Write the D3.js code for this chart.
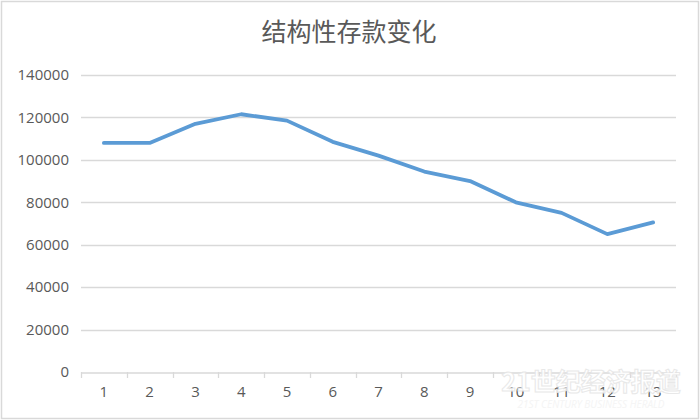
<!DOCTYPE html>
<html>
<head>
<meta charset="utf-8">
<script src="https://cdn.jsdelivr.net/npm/d3@7"></script>
<style>
  body { margin: 0; background: #fff; }
  svg { display: block; }
</style>
</head>
<body>
<div id="chart"></div>
<script>
// data
var categories = ["1", "2", "3", "4", "5", "6", "7", "8", "9", "10", "11", "12", "13"];
var values = [108000, 108000, 117000, 121500, 118500, 108500, 102000, 94500, 90000, 80000, 75000, 65000, 70500];
var yTicks = [0, 20000, 40000, 60000, 80000, 100000, 120000, 140000];
var title = "结构性存款变化";

var W = 700, H = 420;
var margin = {top: 75, right: 24, bottom: 48, left: 81},
    width = W - margin.left - margin.right,
    height = H - margin.top - margin.bottom;

var svg = d3.select("#chart")
  .append("svg")
    .attr("width", W)
    .attr("height", H);

// outer frame
svg.append("rect")
  .attr("x", 1.5).attr("y", 1.5)
  .attr("width", W - 3).attr("height", H - 3)
  .attr("fill", "#fff")
  .attr("stroke", "#d9d9d9")
  .attr("stroke-width", 1.5);

// title
svg.append("text")
  .attr("x", 349)
  .attr("y", 41)
  .attr("text-anchor", "middle")
  .style("font-family", "'Noto Sans CJK SC', sans-serif")
  .style("font-size", "25px")
  .style("fill", "#595959")
  .text(title);

var g = svg.append("g")
  .attr("transform", "translate(" + margin.left + "," + margin.top + ")");

var x = d3.scaleBand()
  .domain(categories)
  .range([0, width]);

var y = d3.scaleLinear()
  .domain([0, 140000])
  .range([height, 0]);

// gridlines
g.append("g")
  .selectAll("line")
  .data(yTicks.filter(function(d) { return d > 0; }))
  .enter()
  .append("line")
    .attr("x1", 0)
    .attr("x2", width)
    .attr("y1", function(d) { return Math.round(y(d)) + 0.5; })
    .attr("y2", function(d) { return Math.round(y(d)) + 0.5; })
    .attr("stroke", "#d9d9d9")
    .attr("stroke-width", 1.3);

// Y axis labels
var yAxis = g.append("g")
  .call(d3.axisLeft(y).tickValues(yTicks).tickSize(0).tickPadding(12).tickFormat(d3.format("d")));
yAxis.select(".domain").remove();
yAxis.selectAll("text")
  .attr("fill", "#595959")
  .style("font-family", "'Open Sans', sans-serif")
  .style("font-size", "15px");

// X axis
var xAxis = g.append("g")
  .attr("transform", "translate(0," + (Math.round(height) + 0.5) + ")")
  .call(d3.axisBottom(x).tickSize(0).tickPadding(14));
xAxis.select(".domain")
  .attr("stroke", "#d9d9d9")
  .attr("stroke-width", 1.3);
xAxis.selectAll("text")
  .attr("fill", "#595959")
  .style("font-family", "'Open Sans', sans-serif")
  .style("font-size", "15px");

// category boundary ticks
var bounds = categories.map(function(c) { return x(c); }).concat([width]);
g.append("g")
  .selectAll("line")
  .data(bounds)
  .enter()
  .append("line")
    .attr("x1", function(d) { return Math.round(d) + 0.5; })
    .attr("x2", function(d) { return Math.round(d) + 0.5; })
    .attr("y1", height)
    .attr("y2", height + 6)
    .attr("stroke", "#d9d9d9")
    .attr("stroke-width", 1.3);

// line
var line = d3.line()
  .x(function(d, i) { return x(categories[i]) + x.bandwidth() / 2; })
  .y(function(d) { return y(d); });

g.append("path")
  .datum(values)
  .attr("d", line)
  .attr("fill", "none")
  .attr("stroke", "#5b9bd5")
  .attr("stroke-width", 3.8)
  .attr("stroke-linejoin", "round")
  .attr("stroke-linecap", "round");

// watermark
var wm = svg.append("g").attr("opacity", 0.9);
wm.append("text")
  .attr("x", 591).attr("y", 391)
  .attr("text-anchor", "middle")
  .style("font-family", "'Noto Sans CJK SC', sans-serif")
  .style("font-weight", "bold")
  .style("font-size", "25px")
  .style("fill", "#fff")
  .style("stroke", "#e6e6e6")
  .style("stroke-width", 1)
  .text("21世纪经济报道");
wm.append("text")
  .attr("x", 591).attr("y", 408)
  .attr("text-anchor", "middle")
  .style("font-family", "'Open Sans', sans-serif")
  .style("font-style", "italic")
  .style("font-size", "10px")
  .style("fill", "#f4f4f4")
  .text("21ST CENTURY BUSINESS HERALD");
</script>
</body>
</html>
